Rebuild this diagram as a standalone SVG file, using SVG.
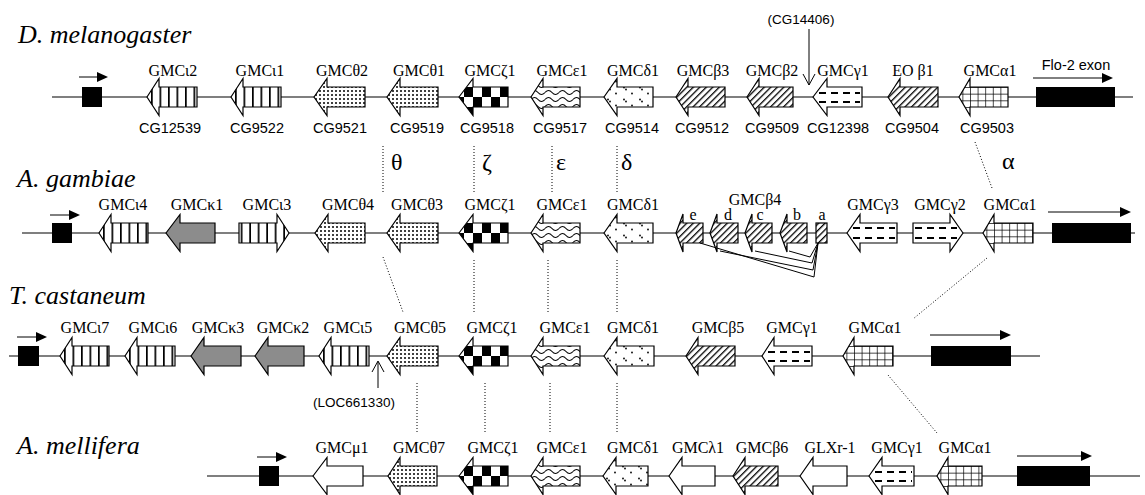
<svg xmlns="http://www.w3.org/2000/svg" width="1145" height="495" viewBox="0 0 1145 495">
<style>
  .gene{stroke:#000;stroke-width:1.2;stroke-linejoin:miter}
  .bb{stroke:#000;stroke-width:1.2;fill:none}
  .dot{stroke:#000;stroke-width:1;stroke-dasharray:1 2;fill:none}
  .dash{stroke:#000;stroke-width:2.2;stroke-dasharray:7 5}
  .thin{stroke:#000;stroke-width:1;fill:none}
  .lab{font-family:"Liberation Serif","Times New Roman",serif;font-size:16px;text-anchor:middle;fill:#000}
  .sm{font-family:"Liberation Serif","Times New Roman",serif;font-size:16px;text-anchor:middle;fill:#000}
  .cg{font-family:"Liberation Sans",Arial,sans-serif;font-size:14.5px;text-anchor:middle;fill:#000}
  .note{font-family:"Liberation Sans",Arial,sans-serif;font-size:13.5px;text-anchor:middle;fill:#000}
  .sp{font-family:"Liberation Serif","Times New Roman",serif;font-style:italic;font-size:26px;fill:#000}
  .gr{font-family:"Liberation Serif","Times New Roman",serif;font-size:24px;fill:#000}
  .kappa{fill:#8c8c8c}
  .white{fill:#fff}
</style>
<defs>
  <!-- fill patterns, in each gene's local frame (tip at 0,0) -->
  <pattern id="pIota" patternUnits="userSpaceOnUse" x="4" y="0" width="8.5" height="40">
    <rect width="8.5" height="40" fill="#fff"/>
    <rect x="0" y="0" width="1.7" height="40" fill="#000"/>
  </pattern>
  <pattern id="pTheta" patternUnits="userSpaceOnUse" x="0" y="0" width="4" height="4">
    <rect width="4" height="4" fill="#fff"/>
    <circle cx="2" cy="2" r="1" fill="#000"/>
  </pattern>
  <pattern id="pZeta" patternUnits="userSpaceOnUse" x="14" y="0" width="18" height="20">
    <rect width="18" height="20" fill="#fff"/>
    <rect x="0" y="0" width="9" height="10" fill="#000"/>
    <rect x="9" y="10" width="9" height="10" fill="#000"/>
  </pattern>
  <pattern id="pEps" patternUnits="userSpaceOnUse" x="0" y="-1" width="14" height="7">
    <rect width="14" height="7" fill="#fff"/>
    <path d="M0 3.5Q3.5 -0.5 7 3.5T14 3.5" stroke="#000" stroke-width="1.1" fill="none"/>
  </pattern>
  <pattern id="pDelta" patternUnits="userSpaceOnUse" x="0" y="0" width="16" height="12">
    <rect width="16" height="12" fill="#fff"/>
    <circle cx="4" cy="2.5" r="0.9" fill="#000"/>
    <circle cx="6" cy="4.5" r="0.9" fill="#000"/>
    <circle cx="12" cy="8.5" r="0.9" fill="#000"/>
  </pattern>
  <pattern id="pBeta" patternUnits="userSpaceOnUse" x="0" y="0" width="4.6" height="10" patternTransform="rotate(45)">
    <rect width="4.6" height="10" fill="#fff"/>
    <rect x="0" y="0" width="1.3" height="10" fill="#000"/>
  </pattern>
  <pattern id="pAlpha" patternUnits="userSpaceOnUse" x="11" y="-10" width="7.6" height="6.667">
    <rect width="7.6" height="6.667" fill="#fff"/>
    <path d="M0 0H7.6M0 0V6.667" stroke="#000" stroke-width="1.4"/>
  </pattern>
</defs>

<rect width="1145" height="495" fill="#fff"/>

<!-- species names -->
<g id="species">
  <text class="sp" x="18" y="43">D. melanogaster</text>
  <text class="sp" x="17" y="187">A. gambiae</text>
  <text class="sp" x="9" y="304">T. castaneum</text>
  <text class="sp" x="17" y="454">A. mellifera</text>
</g>

<!-- genomic backbones -->
<g id="backbones">
  <line class="bb" x1="52" y1="97" x2="1133" y2="97"/>
  <line class="bb" x1="22" y1="233" x2="1135" y2="233"/>
  <line class="bb" x1="9" y1="356" x2="1040" y2="356"/>
  <line class="bb" x1="207" y1="476" x2="1140" y2="476"/>
</g>

<!-- orthology connectors -->
<g id="connectors">
  <line class="dot" x1="383" y1="146" x2="383" y2="192"/>
  <line class="dot" x1="474" y1="146" x2="474" y2="192"/>
  <line class="dot" x1="552" y1="146" x2="552" y2="192"/>
  <line class="dot" x1="617" y1="146" x2="617" y2="192"/>
  <line class="dot" x1="975" y1="142" x2="992" y2="188"/>
  <line class="dot" x1="383" y1="257" x2="403" y2="312"/>
  <line class="dot" x1="474" y1="260" x2="474" y2="313"/>
  <line class="dot" x1="548" y1="260" x2="548" y2="313"/>
  <line class="dot" x1="617" y1="260" x2="617" y2="313"/>
  <line class="dot" x1="987" y1="258" x2="913" y2="319"/>
  <line class="dot" x1="417" y1="383" x2="417" y2="433"/>
  <line class="dot" x1="485" y1="383" x2="485" y2="433"/>
  <line class="dot" x1="550" y1="383" x2="550" y2="433"/>
  <line class="dot" x1="617" y1="383" x2="617" y2="433"/>
  <line class="dot" x1="888" y1="375" x2="937" y2="433"/>
</g>

<!-- subfamily letters -->
<g id="subfamilies">
  <text class="gr" x="391" y="170">θ</text>
  <text class="gr" x="482" y="170">ζ</text>
  <text class="gr" x="556" y="170">ε</text>
  <text class="gr" x="621" y="170">δ</text>
  <text class="gr" x="1002" y="169">α</text>
</g>

<!-- ===== D. melanogaster ===== -->
<g id="dm-promoter">
  <rect x="82" y="87" width="20" height="20" fill="#000"/>
  <line class="thin" x1="79" y1="77" x2="98" y2="77" stroke-width="1.5"/>
  <path d="M97 72L108 77L97 82Z" fill="#000"/>
</g>
<g id="dm-GMCiota2">
  <path class="gene" fill="url(#pIota)" transform="translate(147 97)" d="M0 0L12 -18.5L12 -10H50V10H12V18.5Z"/>
  <text class="lab" x="173" y="76">GMCι2</text><text class="cg" x="170" y="133">CG12539</text>
</g>
<g id="dm-GMCiota1">
  <path class="gene" fill="url(#pIota)" transform="translate(231 97)" d="M0 0L12 -18.5L12 -10H50V10H12V18.5Z"/>
  <text class="lab" x="260" y="76">GMCι1</text><text class="cg" x="257" y="133">CG9522</text>
</g>
<g id="dm-GMCtheta2">
  <path class="gene" fill="url(#pTheta)" transform="translate(314 97)" d="M0 0L13 -18.5L13 -10H51V10H13V18.5Z"/>
  <text class="lab" x="342" y="76">GMCθ2</text><text class="cg" x="340" y="133">CG9521</text>
</g>
<g id="dm-GMCtheta1">
  <path class="gene" fill="url(#pTheta)" transform="translate(387 97)" d="M0 0L13 -18.5L13 -10H51V10H13V18.5Z"/>
  <text class="lab" x="419" y="76">GMCθ1</text><text class="cg" x="417" y="133">CG9519</text>
</g>
<g id="dm-GMCzeta1">
  <path class="gene" fill="url(#pZeta)" transform="translate(459 97)" d="M0 0L14 -18.5L14 -10H49V10H14V18.5Z"/>
  <text class="lab" x="490" y="76">GMCζ1</text><text class="cg" x="487" y="133">CG9518</text>
</g>
<g id="dm-GMCeps1">
  <path class="gene" fill="url(#pEps)" transform="translate(531 97)" d="M0 0L12 -18.5L12 -10H49V10H12V18.5Z"/>
  <text class="lab" x="562" y="76">GMCε1</text><text class="cg" x="560" y="133">CG9517</text>
</g>
<g id="dm-GMCdelta1">
  <path class="gene" fill="url(#pDelta)" transform="translate(604 97)" d="M0 0L13 -18.5L13 -10H49V10H13V18.5Z"/>
  <text class="lab" x="633" y="76">GMCδ1</text><text class="cg" x="632" y="133">CG9514</text>
</g>
<g id="dm-GMCbeta3">
  <path class="gene" fill="url(#pBeta)" transform="translate(676 97)" d="M0 0L12 -18.5L12 -10H49V10H12V18.5Z"/>
  <text class="lab" x="703" y="76">GMCβ3</text><text class="cg" x="702" y="133">CG9512</text>
</g>
<g id="dm-GMCbeta2">
  <path class="gene" fill="url(#pBeta)" transform="translate(747 97)" d="M0 0L12 -18.5L12 -10H46V10H12V18.5Z"/>
  <text class="lab" x="772" y="76">GMCβ2</text><text class="cg" x="772" y="133">CG9509</text>
</g>
<g id="dm-GMCgamma1">
  <path class="gene white" transform="translate(813 97)" d="M0 0L14 -18.5L14 -10H49V10H14V18.5Z"/>
  <line class="dash" x1="819" y1="93" x2="860" y2="93"/>
  <line class="dash" x1="819" y1="102" x2="860" y2="102"/>
  <text class="lab" x="843" y="76">GMCγ1</text><text class="cg" x="838" y="133">CG12398</text>
</g>
<g id="dm-EObeta1">
  <path class="gene" fill="url(#pBeta)" transform="translate(888 97)" d="M0 0L12 -18.5L12 -10H50V10H12V18.5Z"/>
  <text class="lab" x="913" y="76">EO β1</text><text class="cg" x="912" y="133">CG9504</text>
</g>
<g id="dm-GMCalpha1">
  <path class="gene" fill="url(#pAlpha)" transform="translate(959 97)" d="M0 0L11 -18.5L11 -10H49V10H11V18.5Z"/>
  <text class="lab" x="990" y="76">GMCα1</text><text class="cg" x="987" y="133">CG9503</text>
</g>
<g id="dm-flo2">
  <rect x="1036" y="87" width="79" height="20" fill="#000"/>
  <line class="thin" x1="1033" y1="78" x2="1104" y2="78" stroke-width="1.5"/>
  <path d="M1102 73L1113 78L1102 83Z" fill="#000"/>
  <text class="cg" x="1076" y="70" font-size="17px">Flo-2 exon</text>
</g>
<g id="dm-CG14406">
  <text class="note" x="801" y="24">(CG14406)</text>
  <line class="thin" x1="809" y1="29" x2="809" y2="85"/>
  <path class="thin" d="M803 74L809 85L815 74"/>
</g>

<!-- ===== A. gambiae ===== -->
<g id="ag-promoter">
  <rect x="52" y="223" width="20" height="20" fill="#000"/>
  <line class="thin" x1="50" y1="215" x2="71" y2="215" stroke-width="1.5"/>
  <path d="M69 210L80 215L69 220Z" fill="#000"/>
</g>
<g id="ag-GMCiota4">
  <path class="gene" fill="url(#pIota)" transform="translate(99 233)" d="M0 0L12 -18.5L12 -10H49V10H12V18.5Z"/>
  <text class="lab" x="123" y="210">GMCι4</text>
</g>
<g id="ag-GMCkappa1">
  <path class="gene kappa" transform="translate(166 233)" d="M0 0L14 -18.5L14 -10H49V10H14V18.5Z"/>
  <text class="lab" x="197" y="210">GMCκ1</text>
</g>
<g id="ag-GMCiota3">
  <path class="gene" fill="url(#pIota)" transform="translate(289 233) scale(-1 1)" d="M0 0L12 -18.5L12 -10H50V10H12V18.5Z"/>
  <text class="lab" x="267" y="210">GMCι3</text>
</g>
<g id="ag-GMCtheta4">
  <path class="gene" fill="url(#pTheta)" transform="translate(315 233)" d="M0 0L13 -18.5L13 -10H50V10H13V18.5Z"/>
  <text class="lab" x="348" y="210">GMCθ4</text>
</g>
<g id="ag-GMCtheta3">
  <path class="gene" fill="url(#pTheta)" transform="translate(387 233)" d="M0 0L13 -18.5L13 -10H51V10H13V18.5Z"/>
  <text class="lab" x="417" y="210">GMCθ3</text>
</g>
<g id="ag-GMCzeta1">
  <path class="gene" fill="url(#pZeta)" transform="translate(459 233)" d="M0 0L14 -18.5L14 -10H49V10H14V18.5Z"/>
  <text class="lab" x="490" y="210">GMCζ1</text>
</g>
<g id="ag-GMCeps1">
  <path class="gene" fill="url(#pEps)" transform="translate(531 233)" d="M0 0L12 -18.5L12 -10H49V10H12V18.5Z"/>
  <text class="lab" x="562" y="210">GMCε1</text>
</g>
<g id="ag-GMCdelta1">
  <path class="gene" fill="url(#pDelta)" transform="translate(604 233)" d="M0 0L13 -18.5L13 -10H49V10H13V18.5Z"/>
  <text class="lab" x="633" y="210">GMCδ1</text>
</g>
<g id="ag-GMCbeta4">
  <path class="thin" d="M700 243L814 277L818 243M720 251L813 270L818 243M755 251L812 263L818 243M789 251L810 257L818 243"/>
  <path class="gene" fill="url(#pBeta)" transform="translate(676 233)" d="M0 0L7 -19L7 -10H27V10H7V19Z"/>
  <path class="gene" fill="url(#pBeta)" transform="translate(710 233)" d="M0 0L7 -19L7 -10H28V10H7V19Z"/>
  <path class="gene" fill="url(#pBeta)" transform="translate(745 233)" d="M0 0L7 -19L7 -10H27V10H7V19Z"/>
  <path class="gene" fill="url(#pBeta)" transform="translate(780 233)" d="M0 0L7 -19L7 -10H27V10H7V19Z"/>
  <rect class="gene" fill="url(#pBeta)" x="816" y="223" width="11" height="20"/>
  <text class="lab" x="755" y="205">GMCβ4</text>
  <text class="sm" x="693" y="220">e</text>
  <text class="sm" x="728" y="220">d</text>
  <text class="sm" x="760" y="220">c</text>
  <text class="sm" x="797" y="220">b</text>
  <text class="sm" x="822" y="220">a</text>
</g>
<g id="ag-GMCgamma3">
  <path class="gene white" transform="translate(847 233)" d="M0 0L13 -18.5L13 -10H50V10H13V18.5Z"/>
  <line class="dash" x1="853" y1="228" x2="895" y2="228"/>
  <line class="dash" x1="853" y1="238" x2="895" y2="238"/>
  <text class="lab" x="873" y="210">GMCγ3</text>
</g>
<g id="ag-GMCgamma2">
  <path class="gene white" transform="translate(963 233) scale(-1 1)" d="M0 0L13 -18.5L13 -10H50V10H13V18.5Z"/>
  <line class="dash" x1="915" y1="228" x2="957" y2="228"/>
  <line class="dash" x1="915" y1="238" x2="957" y2="238"/>
  <text class="lab" x="940" y="210">GMCγ2</text>
</g>
<g id="ag-GMCalpha1">
  <path class="gene" fill="url(#pAlpha)" transform="translate(983 233)" d="M0 0L11 -18.5L11 -10H50V10H11V18.5Z"/>
  <text class="lab" x="1010" y="210">GMCα1</text>
</g>
<g id="ag-flo2">
  <rect x="1052" y="223" width="79" height="20" fill="#000"/>
  <line class="thin" x1="1048" y1="212" x2="1122" y2="212" stroke-width="1.5"/>
  <path d="M1120 207L1131 212L1120 217Z" fill="#000"/>
</g>

<!-- ===== T. castaneum ===== -->
<g id="tc-promoter">
  <rect x="18" y="346" width="21" height="20" fill="#000"/>
  <line class="thin" x1="17" y1="337" x2="38" y2="337" stroke-width="1.5"/>
  <path d="M36 332L47 337L36 342Z" fill="#000"/>
</g>
<g id="tc-GMCiota7">
  <path class="gene" fill="url(#pIota)" transform="translate(60 356)" d="M0 0L12 -18.5L12 -10H49V10H12V18.5Z"/>
  <text class="lab" x="85" y="333">GMCι7</text>
</g>
<g id="tc-GMCiota6">
  <path class="gene" fill="url(#pIota)" transform="translate(125 356)" d="M0 0L12 -18.5L12 -10H50V10H12V18.5Z"/>
  <text class="lab" x="153" y="333">GMCι6</text>
</g>
<g id="tc-GMCkappa3">
  <path class="gene kappa" transform="translate(191 356)" d="M0 0L13 -18.5L13 -10H50V10H13V18.5Z"/>
  <text class="lab" x="218" y="333">GMCκ3</text>
</g>
<g id="tc-GMCkappa2">
  <path class="gene kappa" transform="translate(255 356)" d="M0 0L13 -18.5L13 -10H49V10H13V18.5Z"/>
  <text class="lab" x="283" y="333">GMCκ2</text>
</g>
<g id="tc-GMCiota5">
  <path class="gene" fill="url(#pIota)" transform="translate(319 356)" d="M0 0L12 -18.5L12 -10H50V10H12V18.5Z"/>
  <text class="lab" x="348" y="333">GMCι5</text>
</g>
<g id="tc-LOC661330">
  <line class="thin" x1="378" y1="388" x2="378" y2="362"/>
  <path class="thin" d="M372 372L378 361L384 372"/>
  <text class="note" x="354" y="407">(LOC661330)</text>
</g>
<g id="tc-GMCtheta5">
  <path class="gene" fill="url(#pTheta)" transform="translate(387 356)" d="M0 0L13 -18.5L13 -10H51V10H13V18.5Z"/>
  <text class="lab" x="420" y="333">GMCθ5</text>
</g>
<g id="tc-GMCzeta1">
  <path class="gene" fill="url(#pZeta)" transform="translate(459 356)" d="M0 0L14 -18.5L14 -10H49V10H14V18.5Z"/>
  <text class="lab" x="492" y="333">GMCζ1</text>
</g>
<g id="tc-GMCeps1">
  <path class="gene" fill="url(#pEps)" transform="translate(531 356)" d="M0 0L12 -18.5L12 -10H49V10H12V18.5Z"/>
  <text class="lab" x="565" y="333">GMCε1</text>
</g>
<g id="tc-GMCdelta1">
  <path class="gene" fill="url(#pDelta)" transform="translate(604 356)" d="M0 0L13 -18.5L13 -10H50V10H13V18.5Z"/>
  <text class="lab" x="633" y="333">GMCδ1</text>
</g>
<g id="tc-GMCbeta5">
  <path class="gene" fill="url(#pBeta)" transform="translate(686 356)" d="M0 0L12 -18.5L12 -10H49V10H12V18.5Z"/>
  <text class="lab" x="718" y="333">GMCβ5</text>
</g>
<g id="tc-GMCgamma1">
  <path class="gene white" transform="translate(762 356)" d="M0 0L12 -18.5L12 -10H50V10H12V18.5Z"/>
  <line class="dash" x1="768" y1="352" x2="810" y2="352"/>
  <line class="dash" x1="768" y1="361" x2="810" y2="361"/>
  <text class="lab" x="792" y="333">GMCγ1</text>
</g>
<g id="tc-GMCalpha1">
  <path class="gene" fill="url(#pAlpha)" transform="translate(843 356)" d="M0 0L11 -18.5L11 -10H50V10H11V18.5Z"/>
  <text class="lab" x="875" y="333">GMCα1</text>
</g>
<g id="tc-flo2">
  <rect x="931" y="346" width="80" height="20" fill="#000"/>
  <line class="thin" x1="930" y1="335" x2="1002" y2="335" stroke-width="1.5"/>
  <path d="M1000 330L1011 335L1000 340Z" fill="#000"/>
</g>

<!-- ===== A. mellifera ===== -->
<g id="am-promoter">
  <rect x="259" y="466" width="20" height="20" fill="#000"/>
  <line class="thin" x1="257" y1="457" x2="278" y2="457" stroke-width="1.5"/>
  <path d="M276 452L287 457L276 462Z" fill="#000"/>
</g>
<g id="am-GMCmu1">
  <path class="gene white" transform="translate(313 476)" d="M0 0L14 -18.5L14 -10H50V10H14V18.5Z"/>
  <text class="lab" x="342" y="453">GMCμ1</text>
</g>
<g id="am-GMCtheta7">
  <path class="gene" fill="url(#pTheta)" transform="translate(388 476)" d="M0 0L12 -18.5L12 -10H49V10H12V18.5Z"/>
  <text class="lab" x="419" y="453">GMCθ7</text>
</g>
<g id="am-GMCzeta1">
  <path class="gene" fill="url(#pZeta)" transform="translate(459 476)" d="M0 0L14 -18.5L14 -10H49V10H14V18.5Z"/>
  <text class="lab" x="493" y="453">GMCζ1</text>
</g>
<g id="am-GMCeps1">
  <path class="gene" fill="url(#pEps)" transform="translate(531 476)" d="M0 0L12 -18.5L12 -10H49V10H12V18.5Z"/>
  <text class="lab" x="562" y="453">GMCε1</text>
</g>
<g id="am-GMCdelta1">
  <path class="gene" fill="url(#pDelta)" transform="translate(603 476)" d="M0 0L13 -18.5L13 -10H45V10H13V18.5Z"/>
  <text class="lab" x="633" y="453">GMCδ1</text>
</g>
<g id="am-GMClambda1">
  <path class="gene white" transform="translate(669 476)" d="M0 0L13 -18.5L13 -10H46V10H13V18.5Z"/>
  <text class="lab" x="698" y="453">GMCλ1</text>
</g>
<g id="am-GMCbeta6">
  <path class="gene" fill="url(#pBeta)" transform="translate(733 476)" d="M0 0L12 -18.5L12 -10H45V10H12V18.5Z"/>
  <text class="lab" x="762" y="453">GMCβ6</text>
</g>
<g id="am-GLXr1">
  <path class="gene white" transform="translate(800 476)" d="M0 0L13 -18.5L13 -10H47V10H13V18.5Z"/>
  <text class="lab" x="830" y="453">GLXr-1</text>
</g>
<g id="am-GMCgamma1">
  <path class="gene white" transform="translate(869 476)" d="M0 0L13 -18.5L13 -10H45V10H13V18.5Z"/>
  <line class="dash" x1="875" y1="472" x2="912" y2="472"/>
  <line class="dash" x1="875" y1="481" x2="912" y2="481"/>
  <text class="lab" x="897" y="453">GMCγ1</text>
</g>
<g id="am-GMCalpha1">
  <path class="gene" fill="url(#pAlpha)" transform="translate(937 476)" d="M0 0L11 -18.5L11 -10H45V10H11V18.5Z"/>
  <text class="lab" x="965" y="453">GMCα1</text>
</g>
<g id="am-flo2">
  <rect x="1017" y="466" width="73" height="20" fill="#000"/>
  <line class="thin" x1="1017" y1="456" x2="1083" y2="456" stroke-width="1.5"/>
  <path d="M1081 451L1092 456L1081 461Z" fill="#000"/>
</g>
</svg>
